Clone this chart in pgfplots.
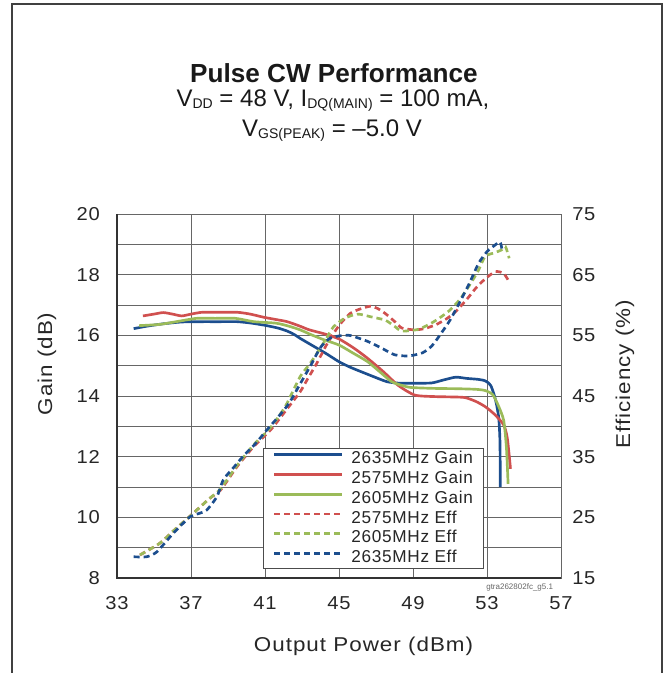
\documentclass[border=0pt]{standalone}
\usepackage{pgfplots}
\pgfplotsset{compat=1.18}
\usepackage{pgfplotstable}
\usepackage{fontspec}
\setmainfont{Liberation Sans}
\newfontfamily\lblfont[FakeStretch=1.12,LetterSpace=5]{Liberation Sans}
\newfontfamily\tickfont[FakeStretch=1.08,LetterSpace=4]{Liberation Sans}
\newfontfamily\legfont[LetterSpace=4]{Liberation Sans}
\definecolor{cblue}{HTML}{1C4E8E}
\definecolor{cred}{HTML}{D0504F}
\definecolor{cgreen}{HTML}{9BBB59}

\pgfplotstableread{
x y
33.9 16.22
34.6 16.30
35.5 16.38
36.5 16.44
37.5 16.45
38.5 16.45
39.5 16.45
40.3 16.40
41.0 16.33
41.7 16.24
42.2 16.14
42.6 16.02
42.9 15.90
43.6 15.65
44.3 15.40
45.0 15.13
45.6 14.95
46.2 14.80
46.9 14.63
47.6 14.47
48.3 14.42
49.0 14.42
50.0 14.43
50.6 14.52
51.3 14.62
51.9 14.58
52.5 14.55
52.9 14.50
53.2 14.35
53.45 13.9
53.63 13.3
53.70 12.5
53.72 11.0
}\gainB

\pgfplotstableread{
x y
34.4 16.64
35.0 16.70
35.5 16.75
36.0 16.70
36.5 16.64
37.0 16.70
37.6 16.76
38.5 16.76
39.5 16.76
40.2 16.70
40.9 16.60
41.6 16.52
42.2 16.45
42.9 16.30
43.4 16.18
44.2 16.05
45.0 15.88
45.8 15.58
46.55 15.24
47.4 14.80
48.2 14.35
49.1 14.03
50.2 13.98
51.0 13.97
51.8 13.95
52.4 13.82
52.9 13.65
53.4 13.40
53.9 13.05
54.1 12.6
54.27 11.6
}\gainR

\pgfplotstableread{
x y
34.2 16.32
35.3 16.36
36.3 16.46
37.3 16.56
38.3 16.56
39.4 16.56
40.4 16.45
41.6 16.40
42.3 16.30
42.9 16.18
43.5 16.02
44.2 15.85
45.0 15.68
45.8 15.40
46.55 15.13
47.2 14.80
47.85 14.47
48.4 14.35
48.9 14.28
50.2 14.25
51.4 14.24
52.4 14.22
52.9 14.18
53.3 14.05
53.6 13.7
53.9 13.2
54.05 12.3
54.14 11.1
}\gainG

\pgfplotstableread{
x y
34.24 18.8
35.3 20.7
36.1 22.9
36.95 25.2
38.0 28.1
38.6 29.5
39.5 33.4
40.4 36.7
41.3 39.4
42.1 42.5
42.9 45.7
43.3 47.8
43.8 50.4
44.3 53.3
44.7 55.3
45.1 57.0
45.6 58.6
46.1 59.3
46.7 59.8
47.1 59.4
47.5 58.6
48.0 57.3
48.4 56.2
49.1 55.9
49.6 56.1
50.2 56.7
50.8 57.7
51.3 58.9
51.9 60.9
52.4 62.8
52.9 64.3
53.45 65.5
53.9 65.2
54.2 63.8
}\effR

\pgfplotstableread{
x y
34.24 18.8
35.3 20.7
36.1 22.9
36.95 25.2
38.0 28.1
38.6 29.7
39.5 33.6
40.4 37.0
41.3 39.8
42.1 43.3
42.9 48.2
43.4 50.2
43.8 52.0
44.3 54.4
44.7 56.4
45.3 57.8
46.0 58.5
46.8 58.0
47.5 57.5
48.0 56.5
48.4 55.7
49.3 56.0
50.1 57.2
50.9 58.9
51.5 60.8
52.0 63.0
52.5 65.5
52.9 68.0
53.4 68.6
53.8 69.1
54.0 69.6
54.2 67.7
}\effG

\pgfplotstableread{
x y
33.9 18.5
34.6 18.5
35.15 19.3
36.05 22.4
36.95 25.1
37.4 25.6
37.85 26.2
38.4 28.4
38.75 31.2
39.3 33.2
39.8 35.0
40.5 37.2
41.1 39.4
41.7 41.5
42.3 43.8
42.9 47.0
43.5 50.2
44.0 53.0
44.5 54.5
45.0 54.9
45.55 55.0
46.0 54.6
46.55 54.0
47.3 52.9
48.0 51.8
48.75 51.6
49.5 52.1
50.0 53.2
50.4 54.8
51.0 57.5
51.5 60.3
52.05 63.6
52.55 66.9
53.0 68.8
53.4 69.8
53.7 70.4
53.8 69.3
}\effB

\begin{document}
\begin{tikzpicture}
\useasboundingbox (-87.75pt,-71.25pt) rectangle (411pt,433.5pt);
\begin{axis}[
  at={(0pt,0pt)}, anchor=south west,
  width=333pt, height=273pt, scale only axis,
  xmin=33, xmax=57, ymin=8, ymax=20,
  xtick={33,37,...,57}, ytick={8,10,...,20}, minor ytick={9,11,...,19},
  grid=both,
  major grid style={draw=black!60, line width=0.7pt},
  minor grid style={draw=black!60, line width=0.7pt},
  major tick length=0pt, minor tick length=0pt,
  axis line style={draw=black!60, line width=0.7pt},
  /pgf/number format/assume math mode=true,
  tick label style={font=\tickfont\fontsize{14}{16}\selectfont, text=black!85},
  xticklabel style={anchor=base, inner sep=0pt, yshift=-23.5pt},
  yticklabel style={anchor=east, inner sep=0pt, xshift=-12.75pt},
  clip=false,
]
\addplot[draw=cblue, line width=2pt, smooth, tension=0.4] table {\gainB};
\addplot[draw=cred, line width=2pt, smooth, tension=0.4] table {\gainR};
\addplot[draw=cgreen, line width=2pt, smooth, tension=0.4] table {\gainG};
\draw[black!80, line width=1.5pt] (rel axis cs:0,1) -- (rel axis cs:0,0) -- (rel axis cs:1,0);
\node[rotate=90, anchor=center, font=\lblfont\fontsize{15}{17}\selectfont, text=black!85] at (rel axis cs:-0.1577,0.588) {Gain (dB)};
\node[anchor=base, font=\lblfont\fontsize{15}{17}\selectfont, text=black!85] at (rel axis cs:0.5552,-0.2026) {Output Power (dBm)};
\end{axis}
\begin{axis}[
  at={(0pt,0pt)}, anchor=south west,
  width=333pt, height=273pt, scale only axis,
  xmin=33, xmax=57, ymin=15, ymax=75,
  axis x line=none, axis y line*=right,
  ytick={15,25,...,75},
  major tick length=0pt,
  axis line style={draw=black!60, line width=0.7pt},
  /pgf/number format/assume math mode=true,
  tick label style={font=\tickfont\fontsize{14}{16}\selectfont, text=black!85},
  yticklabel style={anchor=west, inner sep=0pt, xshift=8.25pt},
  clip=false,
  legend style={at={(0.3288,0.0247)}, anchor=south west, draw=black!70, line width=0.6pt,
    fill=white, font=\legfont\fontsize{12.9}{14}\selectfont, text=black!85,
    inner xsep=7pt, inner ysep=1pt, row sep=0.8pt, column sep=5pt,
    nodes={inner sep=1pt, text height=9.4pt, text depth=2.6pt}},
  legend cell align=left,
  legend image code/.code={\draw[#1, line width=2pt] (0pt,3.4pt) -- (51pt,3.4pt);},
]
\addlegendimage{draw=cblue, line width=2pt}
\addlegendentry{2635MHz Gain}
\addlegendimage{draw=cred, line width=2pt}
\addlegendentry{2575MHz Gain}
\addlegendimage{draw=cgreen, line width=2pt}
\addlegendentry{2605MHz Gain}
\addplot[draw=cred, line width=2pt, dash pattern=on 4.5pt off 3pt, smooth, tension=0.4] table {\effR};
\addlegendentry{2575MHz Eff}
\addplot[draw=cgreen, line width=2pt, dash pattern=on 4.5pt off 3pt, smooth, tension=0.4] table {\effG};
\addlegendentry{2605MHz Eff}
\addplot[draw=cblue, line width=2pt, dash pattern=on 4.5pt off 3pt, smooth, tension=0.4] table {\effB};
\addlegendentry{2635MHz Eff}
\node[rotate=90, anchor=center, font=\lblfont\fontsize{15}{17}\selectfont, text=black!85] at (rel axis cs:1.1441,0.5604) {Efficiency (\%)};
\end{axis}
\node[anchor=base, font=\fontsize{6}{7}\selectfont, text=black!60] at (302pt,-9pt) {gtra262802fc\_g5.1};
\node[anchor=base, font=\bfseries\fontsize{19.6}{22}\selectfont, text=black!90] at (162.75pt,371.25pt) {Pulse CW Performance};
\node[anchor=base, font=\fontsize{18}{20}\selectfont, text=black!90] at (162pt,353.5pt)
  {V\raisebox{-1.5pt}{\fontsize{10.5}{12}\selectfont DD} = 48 V, I\raisebox{-1.5pt}{\fontsize{10.5}{12}\selectfont DQ(MAIN)} = 100 mA,};
\node[anchor=base, font=\fontsize{18}{20}\selectfont, text=black!90] at (161.25pt,331pt)
  {V\raisebox{-1.5pt}{\fontsize{10.5}{12}\selectfont GS(PEAK)} = –5.0 V};
\draw[black!75, line width=1.1pt] (-78.75pt,-72pt) -- (-78.75pt,430.5pt) -- (408.75pt,430.5pt) -- (408.75pt,-72pt);
\end{tikzpicture}
\end{document}
